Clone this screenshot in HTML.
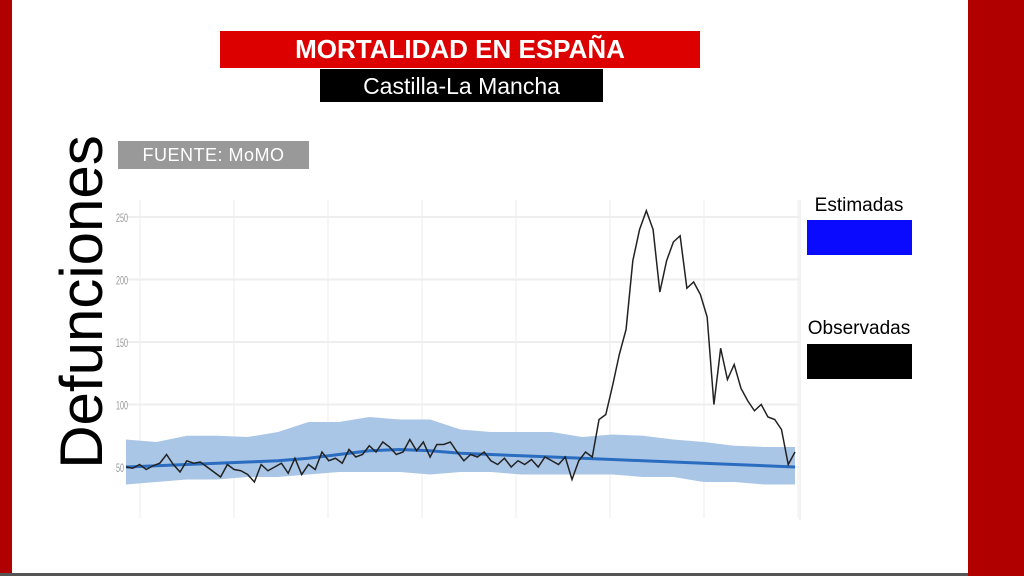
<!DOCTYPE html>
<html><head><meta charset="utf-8"><style>
body{margin:0;width:1024px;height:576px;overflow:hidden;background:#fff;font-family:"Liberation Sans",sans-serif;position:relative}
.abs{position:absolute}
</style></head><body>
<div class="abs" style="left:0;top:0;width:12px;height:576px;background:#b00000"></div>
<div class="abs" style="left:968px;top:0;width:56px;height:576px;background:#b00000"></div>
<div class="abs" style="left:0;top:573px;width:968px;height:3px;background:#555"></div>
<div class="abs" style="left:220px;top:31px;width:480px;height:37px;background:#dd0000;color:#fff;font-weight:bold;font-size:26px;line-height:37px;text-align:center">MORTALIDAD EN ESPAÑA</div>
<div class="abs" style="left:320px;top:69px;width:283px;height:33px;background:#000;color:#fff;font-size:23px;line-height:35px;text-align:center">Castilla-La Mancha</div>
<div class="abs" style="left:118px;top:141px;width:191px;height:28px;background:#999;color:#fff;font-size:18px;line-height:29px;text-align:center;letter-spacing:0.5px">FUENTE: MoMO</div>
<div class="abs" style="left:-98px;top:272px;width:360px;height:60px;transform:rotate(-90deg);font-size:60px;line-height:60px;text-align:center;color:#000">Defunciones</div>
<div class="abs" style="left:800px;top:195px;width:118px;text-align:center;font-size:19px">Estimadas</div>
<div class="abs" style="left:807px;top:220px;width:105px;height:35px;background:#0a0aff"></div>
<div class="abs" style="left:800px;top:318px;width:118px;text-align:center;font-size:19px">Observadas</div>
<div class="abs" style="left:807px;top:344px;width:105px;height:35px;background:#000"></div>
<svg class="abs" style="left:0;top:0" width="1024" height="576" id="chart"></svg>
<script>
const yTicks=[50,100,150,200,250];
const observed=[50,49,52,48,51,53,60,52,46,55,53,54,50,46,42,52,48,47,44,38,52,47,50,53,45,57,44,52,48,62,55,57,53,64,58,60,67,62,70,66,60,62,72,63,70,58,68,68,70,62,55,60,58,62,55,52,57,50,55,52,56,50,58,55,52,58,40,55,62,58,88,92,115,140,160,215,240,255,240,190,215,230,235,193,198,188,170,100,145,120,132,113,103,95,100,90,88,80,52,62];
const estimated=[50,51,52,53,54,55,57,60,63,64,63,61,60,59,58,57,56,55,54,53,52,51,50];
const bandUpper=[72,70,75,75,74,78,86,86,90,88,88,80,78,78,78,74,76,75,72,70,67,66,66];
const bandLower=[36,38,40,40,42,42,44,46,46,46,44,46,46,44,44,44,44,42,42,38,38,36,36];
const svg=document.getElementById('chart');const NS='http://www.w3.org/2000/svg';
const X0=126,X1=795;
const y=v=>467-(v-50)*1.25;
const xo=i=>X0+i*(X1-X0)/(observed.length-1);
const xe=i=>X0+i*(X1-X0)/(estimated.length-1);
function mk(t,a){const e=document.createElementNS(NS,t);for(const k in a)e.setAttribute(k,a[k]);svg.appendChild(e);return e;}
for(let i=0;i<8;i++){const g=mk('line',{x1:140+i*94,x2:140+i*94,y1:200,y2:518,stroke:'#f4f4f4','stroke-width':1.5});

}
yTicks.forEach(v=>{const g=mk('line',{x1:126,x2:800,y1:y(v),y2:y(v),stroke:'#eeeeee','stroke-width':2});


const t=mk('text',{x:116/0.6,y:y(v)+5,'font-size':12,fill:'#999','font-family':'Liberation Sans, sans-serif',transform:'scale(0.6,1)'});
t.textContent=v;

});
mk('line',{x1:800,x2:800,y1:200,y2:520,stroke:'#eee','stroke-width':1.5});
let d='';bandUpper.forEach((v,i)=>d+=(i?'L':'M')+xe(i)+','+y(v));
for(let i=bandLower.length-1;i>=0;i--)d+='L'+xe(i)+','+y(bandLower[i]);
const band=mk('path',{d:d+'Z',fill:'#aac6e6'});


const est=mk('polyline',{points:estimated.map((v,i)=>xe(i)+','+y(v)).join(' '),fill:'none',stroke:'#2a6cc0','stroke-width':3});


const obs=mk('polyline',{points:observed.map((v,i)=>xo(i)+','+y(v)).join(' '),fill:'none',stroke:'#222','stroke-width':1.5});


</script>
</body></html>
